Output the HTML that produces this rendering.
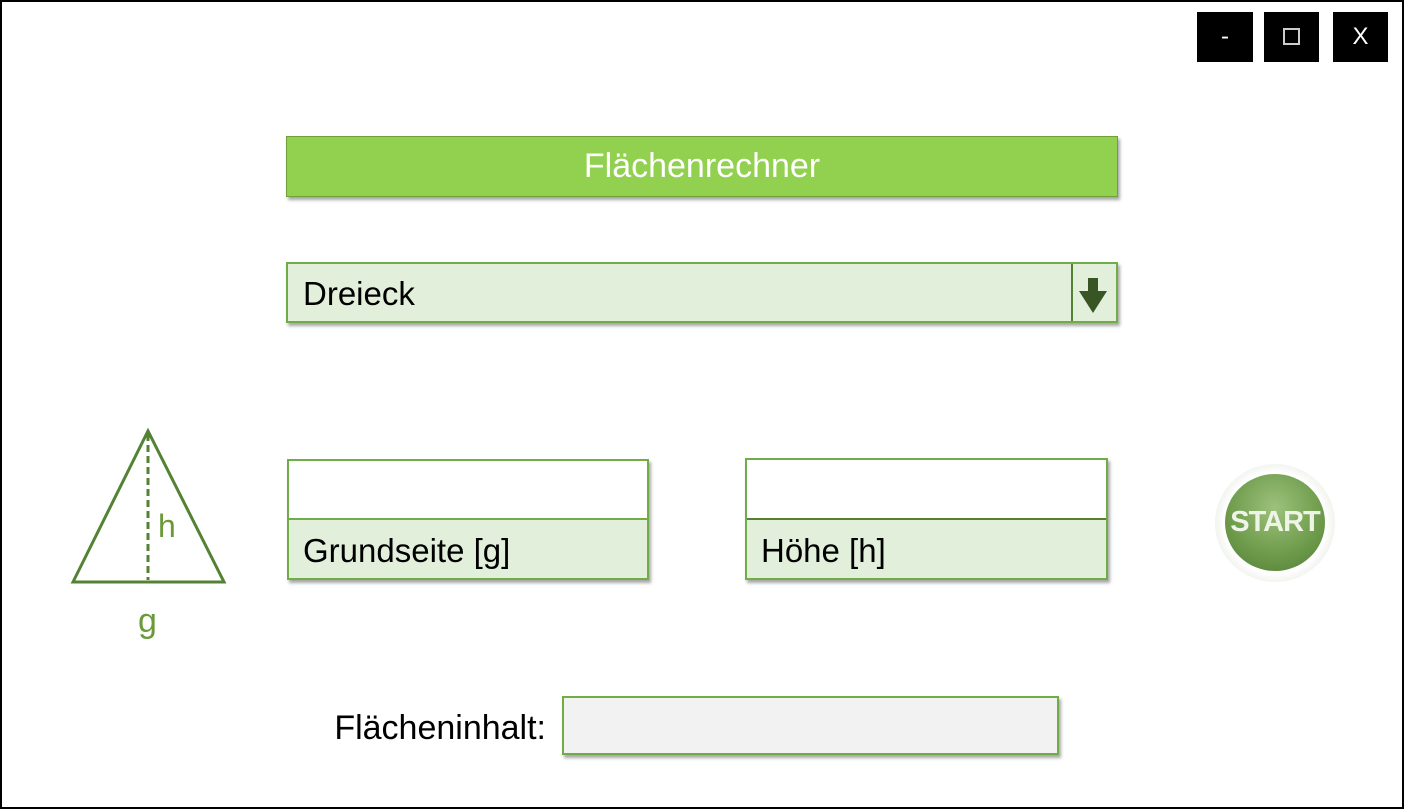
<!DOCTYPE html>
<html><head><meta charset="utf-8"><style>
*{margin:0;padding:0;box-sizing:border-box}
body{width:1404px;height:809px;background:#fff;position:relative;overflow:hidden;font-family:"Liberation Sans",sans-serif}
.frame{position:absolute;left:0;top:0;width:1404px;height:809px;border:2px solid #000}
.wb{position:absolute;top:12px;height:50px;background:#000;color:#fff;font-size:24px;text-align:center;line-height:50px}
.abs{position:absolute}
.sh{box-shadow:2px 3px 3px rgba(0,0,0,0.35)}
</style></head><body>
<div class="frame"></div>
<div class="wb" style="left:1197px;width:56px">-</div>
<div class="wb" style="left:1264px;width:55px;"><div style="position:absolute;left:19px;top:16px;width:17px;height:17px;border:2px solid #ccc"></div></div>
<div class="wb" style="left:1333px;width:55px">X</div>

<div class="abs sh" style="left:286px;top:136px;width:832px;height:61px;background:#92d050;border:1px solid #6fa13a;color:#fff;font-size:34px;text-align:center;line-height:59px">Flächenrechner</div>

<div class="abs sh" style="left:286px;top:262px;width:832px;height:61px;background:#e2efda;border:2px solid #70ad47;font-size:33px;line-height:59px;padding-left:15px;color:#000">Dreieck
<div style="position:absolute;right:0;top:0;width:45px;height:57px;border-left:2px solid #548235"></div>
<svg style="position:absolute;right:8px;top:14px" width="30" height="36"><polygon points="10,0 20,0 20,13 29,13 15,35 1,13 10,13" fill="#375623"/></svg>
</div>

<svg class="abs" style="left:60px;top:420px" width="180" height="230">
<polygon points="13,162 88,11 164,162" fill="none" stroke="#548235" stroke-width="3"/>
<line x1="88" y1="14" x2="88" y2="160" stroke="#548235" stroke-width="3" stroke-dasharray="7,4"/>
<text x="98" y="117" font-family="Liberation Sans" font-size="32" fill="#6a9a3a">h</text>
<text x="78" y="212" font-family="Liberation Sans" font-size="34" fill="#6a9a3a">g</text>
</svg>

<div class="abs sh" style="left:287px;top:459px;width:362px;height:121px;border:2px solid #70ad47;background:#e2efda">
<div style="height:59px;background:#fff;border-bottom:2px solid #70ad47"></div>
<div style="font-size:33px;line-height:62px;padding-left:14px">Grundseite [g]</div></div>

<div class="abs sh" style="left:745px;top:458px;width:363px;height:122px;border:2px solid #70ad47;background:#e2efda">
<div style="height:60px;background:#fff;border-bottom:2px solid #548235"></div>
<div style="font-size:33px;line-height:62px;padding-left:14px">Höhe [h]</div></div>

<div class="abs" style="left:1215px;top:464px;width:120px;height:118px;border-radius:50%;background:radial-gradient(circle,#fff 60%,#e6ebe2 80%,#fff 100%)"></div>
<div class="abs" style="left:1225px;top:474px;width:100px;height:97px;border-radius:50%;background:radial-gradient(circle at 50% 35%,#9cc27c,#6d9a4a 60%,#4f7c34);color:#eef5e6;font-size:29px;font-weight:bold;text-align:center;line-height:97px;letter-spacing:-1px">START</div>

<div class="abs" style="left:280px;top:706px;width:266px;text-align:right;font-size:34px;line-height:44px">Flächeninhalt:</div>
<div class="abs sh" style="left:562px;top:696px;width:497px;height:59px;background:#f2f2f2;border:2px solid #70ad47"></div>
</body></html>
